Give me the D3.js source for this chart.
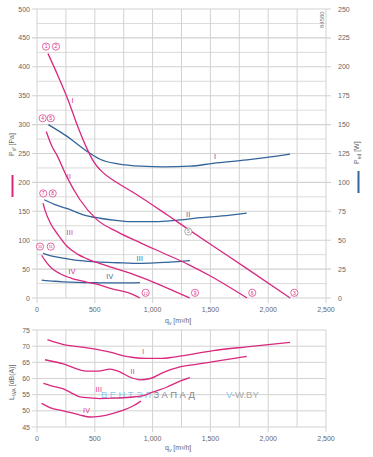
<!DOCTYPE html>
<html>
<head>
<meta charset="utf-8">
<script src="https://cdn.jsdelivr.net/npm/d3@7"></script>
<style>
body { margin: 0; background: #fff; }
svg text { font-family: "Liberation Sans", Arial, sans-serif; }
</style>
</head>
<body>
<div id="chart"></div>
<script>
// pressure curves P_sf [Pa] vs q_v [m3/h]
var pressI   = [[95,423],[180,385],[268,343],[350,298],[433,258],[490,236],[545,222],[680,201],[830,183],[1125,144],[1300,120],[1500,93],[1800,53],[2190,0]]
var pressII  = [[80,288],[130,262],[170,248],[257,210],[372,170],[516,136],[700,114],[900,95],[1100,77],[1320,57],[1500,38],[1817,0]]
var pressIII = [[52,164],[69,152],[120,128],[180,110],[257,90],[350,76],[430,68],[600,56],[805,43],[1000,28],[1320,0]]
var pressIV  = [[40,74],[80,62],[130,51],[200,42],[300,34],[420,28],[516,24],[650,16],[805,8],[890,0]]

// power curves P_ed [W]
var powerI   = [[98,150],[257,140],[430,127],[545,120],[700,116],[900,114],[1100,113.5],[1323,114],[1523,116.5],[1817,119.5],[2189,124.5]]
var powerII  = [[63,85],[150,81],[257,77.5],[400,72],[545,69],[700,67],[830,66],[1000,66],[1122,66.5],[1237,67.5],[1410,69.5],[1600,71],[1814,73.5]]
var powerIII = [[52,38.5],[120,36.5],[226,34.5],[350,32.5],[516,31.3],[700,30.5],[830,30],[978,30.2],[1150,31],[1323,32.3]]
var powerIV  = [[40,15.5],[150,14.5],[226,14],[350,13.5],[516,13.2],[700,13],[890,13.3]]

// sound power L_WA [dB(A)]
var soundI   = [[90,72],[228,70.5],[372,69.8],[516,69],[650,68],[747,67],[833,66.5],[950,66.2],[1064,66.2],[1180,66.6],[1323,67.4],[1525,68.6],[1814,69.8],[2189,71.2]]
var soundII  = [[69,65.8],[228,64.5],[430,62.3],[530,62.3],[632,62.9],[720,62],[800,60.5],[891,59.6],[980,60],[1100,62],[1237,63.6],[1400,64.5],[1525,65.2],[1814,66.8]]
var soundIII = [[55,58.5],[150,57.5],[228,56.8],[300,55.5],[372,54.3],[458,54],[545,53.8],[660,53.9],[805,54.2],[920,54.7],[1000,55.8],[1122,57.3],[1237,59.2],[1323,60.3]]
var soundIV  = [[40,52.3],[112,51],[228,50],[372,48.7],[458,48.1],[540,48.3],[603,48.7],[747,50.2],[830,51.5],[900,53]]

var names = ["I","II","III","IV"]
var qTicks = [0,500,1000,1500,2000,2500]
var pTicks = d3.range(0,501,50)
var wTicks = d3.range(0,251,25)
var lTicks = d3.range(45,76,5)

// annotation anchors (data units)
var circleNotes = [
  {t:"1",q:78,p:435},{t:"2",q:164,p:435},{t:"3",q:2226,p:9},
  {t:"4",q:49,p:311},{t:"5",q:119,p:311},{t:"6",q:1862,p:9},
  {t:"7",q:54,p:181},{t:"8",q:136,p:181},{t:"9",q:1367,p:9},
  {t:"10",q:26,p:89},{t:"11",q:119,p:89},{t:"12",q:940,p:9}
]
var greyNote = {t:"5",q:1309,p:115}
var pressLabels = [[309,341],[277,210],[285,113],[303,45]]
var powerLabels = [[1540,122.4],[1309,72.5],[891,34.4],[631,18.4]]
var soundLabels = [[920,68.3],[828,62.1],[536,56.5],[430,50]]

var W = 373, H = 457
var pink = "#d8287f", blue = "#33649a", grid = "#d2d2d2", txt = "#666"

var svg = d3.select("#chart").append("svg").attr("width",W).attr("height",H)

var x = d3.scaleLinear().domain([0,2500]).range([37,326])
var yP = d3.scaleLinear().domain([0,500]).range([298,9])
var yW = d3.scaleLinear().domain([0,250]).range([298,9])
var yL = d3.scaleLinear().domain([45,75]).range([427,330])
var fmt = d3.format(",")

// ---- top grid
var g1 = svg.append("g")
g1.selectAll(".hp").data(d3.range(0,501,25)).enter().append("line")
  .attr("x1",d => d%50==0 ? x(0)-5 : x(0)).attr("x2",d => d%50==0 ? x(2500)+5 : x(2500))
  .attr("y1",d => yP(d)).attr("y2",d => yP(d))
  .attr("stroke",grid).attr("stroke-width",d => d%50==0 ? 1.1 : 0.8)
g1.selectAll(".vp").data(d3.range(0,2501,250)).enter().append("line")
  .attr("x1",d => x(d)).attr("x2",d => x(d))
  .attr("y1",yP(500)).attr("y2",d => d%500==0 ? yP(0)+5 : yP(0))
  .attr("stroke",grid).attr("stroke-width",1)

g1.selectAll(".lp").data(pTicks).enter().append("text")
  .attr("x",30).attr("y",d => yP(d)+2.5).attr("text-anchor","end")
  .attr("font-size",7).attr("fill",txt).text(d => d)
g1.selectAll(".rw").data(wTicks).enter().append("text")
  .attr("x",338).attr("y",d => yW(d)+2.5)
  .attr("font-size",7).attr("fill",txt).text(d => d)
g1.selectAll(".xq").data(qTicks).enter().append("text")
  .attr("x",d => x(d)).attr("y",312).attr("text-anchor","middle")
  .attr("font-size",7).attr("fill",txt).text(d => fmt(d))

// ---- bottom grid
var g2 = svg.append("g")
g2.selectAll(".hl").data(lTicks).enter().append("line")
  .attr("x1",x(0)-5).attr("x2",x(2500))
  .attr("y1",d => yL(d)).attr("y2",d => yL(d))
  .attr("stroke",grid).attr("stroke-width",1)
g2.selectAll(".vl").data(d3.range(0,2501,250)).enter().append("line")
  .attr("x1",d => x(d)).attr("x2",d => x(d))
  .attr("y1",yL(75)).attr("y2",d => d%500==0 ? yL(45)+5 : yL(45))
  .attr("stroke",grid).attr("stroke-width",1)
g2.selectAll(".ll").data(lTicks).enter().append("text")
  .attr("x",30).attr("y",d => yL(d)+2.5).attr("text-anchor","end")
  .attr("font-size",7).attr("fill",txt).text(d => d)
g2.selectAll(".xl").data(qTicks).enter().append("text")
  .attr("x",d => x(d)).attr("y",441).attr("text-anchor","middle")
  .attr("font-size",7).attr("fill",txt).text(d => fmt(d))

// ---- axis titles
function qLabel(y){
  var t = svg.append("text").attr("x",165).attr("y",y).attr("font-size",7).attr("fill",txt)
  t.append("tspan").text("q")
  t.append("tspan").attr("font-size",5).attr("dy",1.5).text("v")
  t.append("tspan").attr("dy",-1.5).text(" [m³/h]")
}
qLabel(323)
qLabel(450)

var psf = svg.append("text").attr("transform","translate(14,156) rotate(-90)").attr("font-size",7).attr("fill",txt)
psf.append("tspan").text("P")
psf.append("tspan").attr("font-size",5).attr("dy",1.5).text("sf")
psf.append("tspan").attr("dy",-1.5).text(" [Pa]")
svg.append("line").attr("x1",12.5).attr("x2",12.5).attr("y1",175).attr("y2",197).attr("stroke",pink).attr("stroke-width",2)

var ped = svg.append("text").attr("transform","translate(359,164) rotate(-90)").attr("font-size",7).attr("fill",txt)
ped.append("tspan").text("P")
ped.append("tspan").attr("font-size",5).attr("dy",1.5).text("ed")
ped.append("tspan").attr("dy",-1.5).text(" [W]")
svg.append("line").attr("x1",358.5).attr("x2",358.5).attr("y1",171).attr("y2",193).attr("stroke",blue).attr("stroke-width",2)

var lwa = svg.append("text").attr("transform","translate(14,400) rotate(-90)").attr("font-size",7).attr("fill",txt)
lwa.append("tspan").text("L")
lwa.append("tspan").attr("font-size",5).attr("dy",1.5).text("WA")
lwa.append("tspan").attr("dy",-1.5).text(" [dB(A)]")

svg.append("text").attr("transform","translate(324,28) rotate(-90)")
  .attr("font-size",6).attr("fill","#777").text("84580")

// ---- watermark
var wm = svg.append("text").attr("x",101).attr("y",398).attr("font-size",9.5).attr("letter-spacing",2.4)
wm.append("tspan").attr("fill","#8cc6ec").text("ВЕНТЭЛ")
wm.append("tspan").attr("fill","#8a8a8a").text("ЗАПАД")
var wm2 = svg.append("text").attr("x",226).attr("y",398).attr("font-size",9.5)
wm2.append("tspan").attr("fill","#8cc6ec").text("V")
wm2.append("tspan").attr("fill","#a9a9a9").text("-W.BY")

// ---- curves
var lineP = d3.line().x(d => x(d[0])).y(d => yP(d[1])).curve(d3.curveMonotoneX)
var lineW = d3.line().x(d => x(d[0])).y(d => yW(d[1])).curve(d3.curveMonotoneX)
var lineL = d3.line().x(d => x(d[0])).y(d => yL(d[1])).curve(d3.curveMonotoneX)

var curves = svg.append("g").attr("fill","none").attr("stroke-width",1.3)
curves.selectAll(".pw").data([powerI,powerII,powerIII,powerIV]).enter().append("path")
  .attr("d",lineW).attr("stroke",blue)
curves.selectAll(".pp").data([pressI,pressII,pressIII,pressIV]).enter().append("path")
  .attr("d",lineP).attr("stroke",pink)
curves.selectAll(".ps").data([soundI,soundII,soundIII,soundIV]).enter().append("path")
  .attr("d",lineL).attr("stroke",pink)

// ---- roman labels
function roman(pts, ys, col){
  svg.append("g").selectAll("text").data(pts).enter().append("text")
    .attr("x",d => x(d[0])).attr("y",d => ys(d[1])+2.5).attr("text-anchor","middle")
    .attr("font-size",7).attr("fill",col).attr("letter-spacing",0.3)
    .text((d,i) => names[i])
}
roman(pressLabels, yP, pink)
roman(powerLabels, yW, blue)
roman(soundLabels, yL, pink)

// ---- circled numbers
function circled(notes, col){
  var gg = svg.append("g").selectAll("g").data(notes).enter().append("g")
    .attr("transform",d => "translate(" + x(d.q) + "," + yP(d.p) + ")")
  gg.append("circle").attr("r",3.6).attr("fill","#fff").attr("stroke",col).attr("stroke-width",0.7)
  gg.append("text").attr("y",1.8).attr("text-anchor","middle")
    .attr("font-size",d => d.t.length > 1 ? 3.8 : 5).attr("fill",col).text(d => d.t)
}
circled(circleNotes, pink)
circled([greyNote], "#888")
</script>
</body>
</html>
